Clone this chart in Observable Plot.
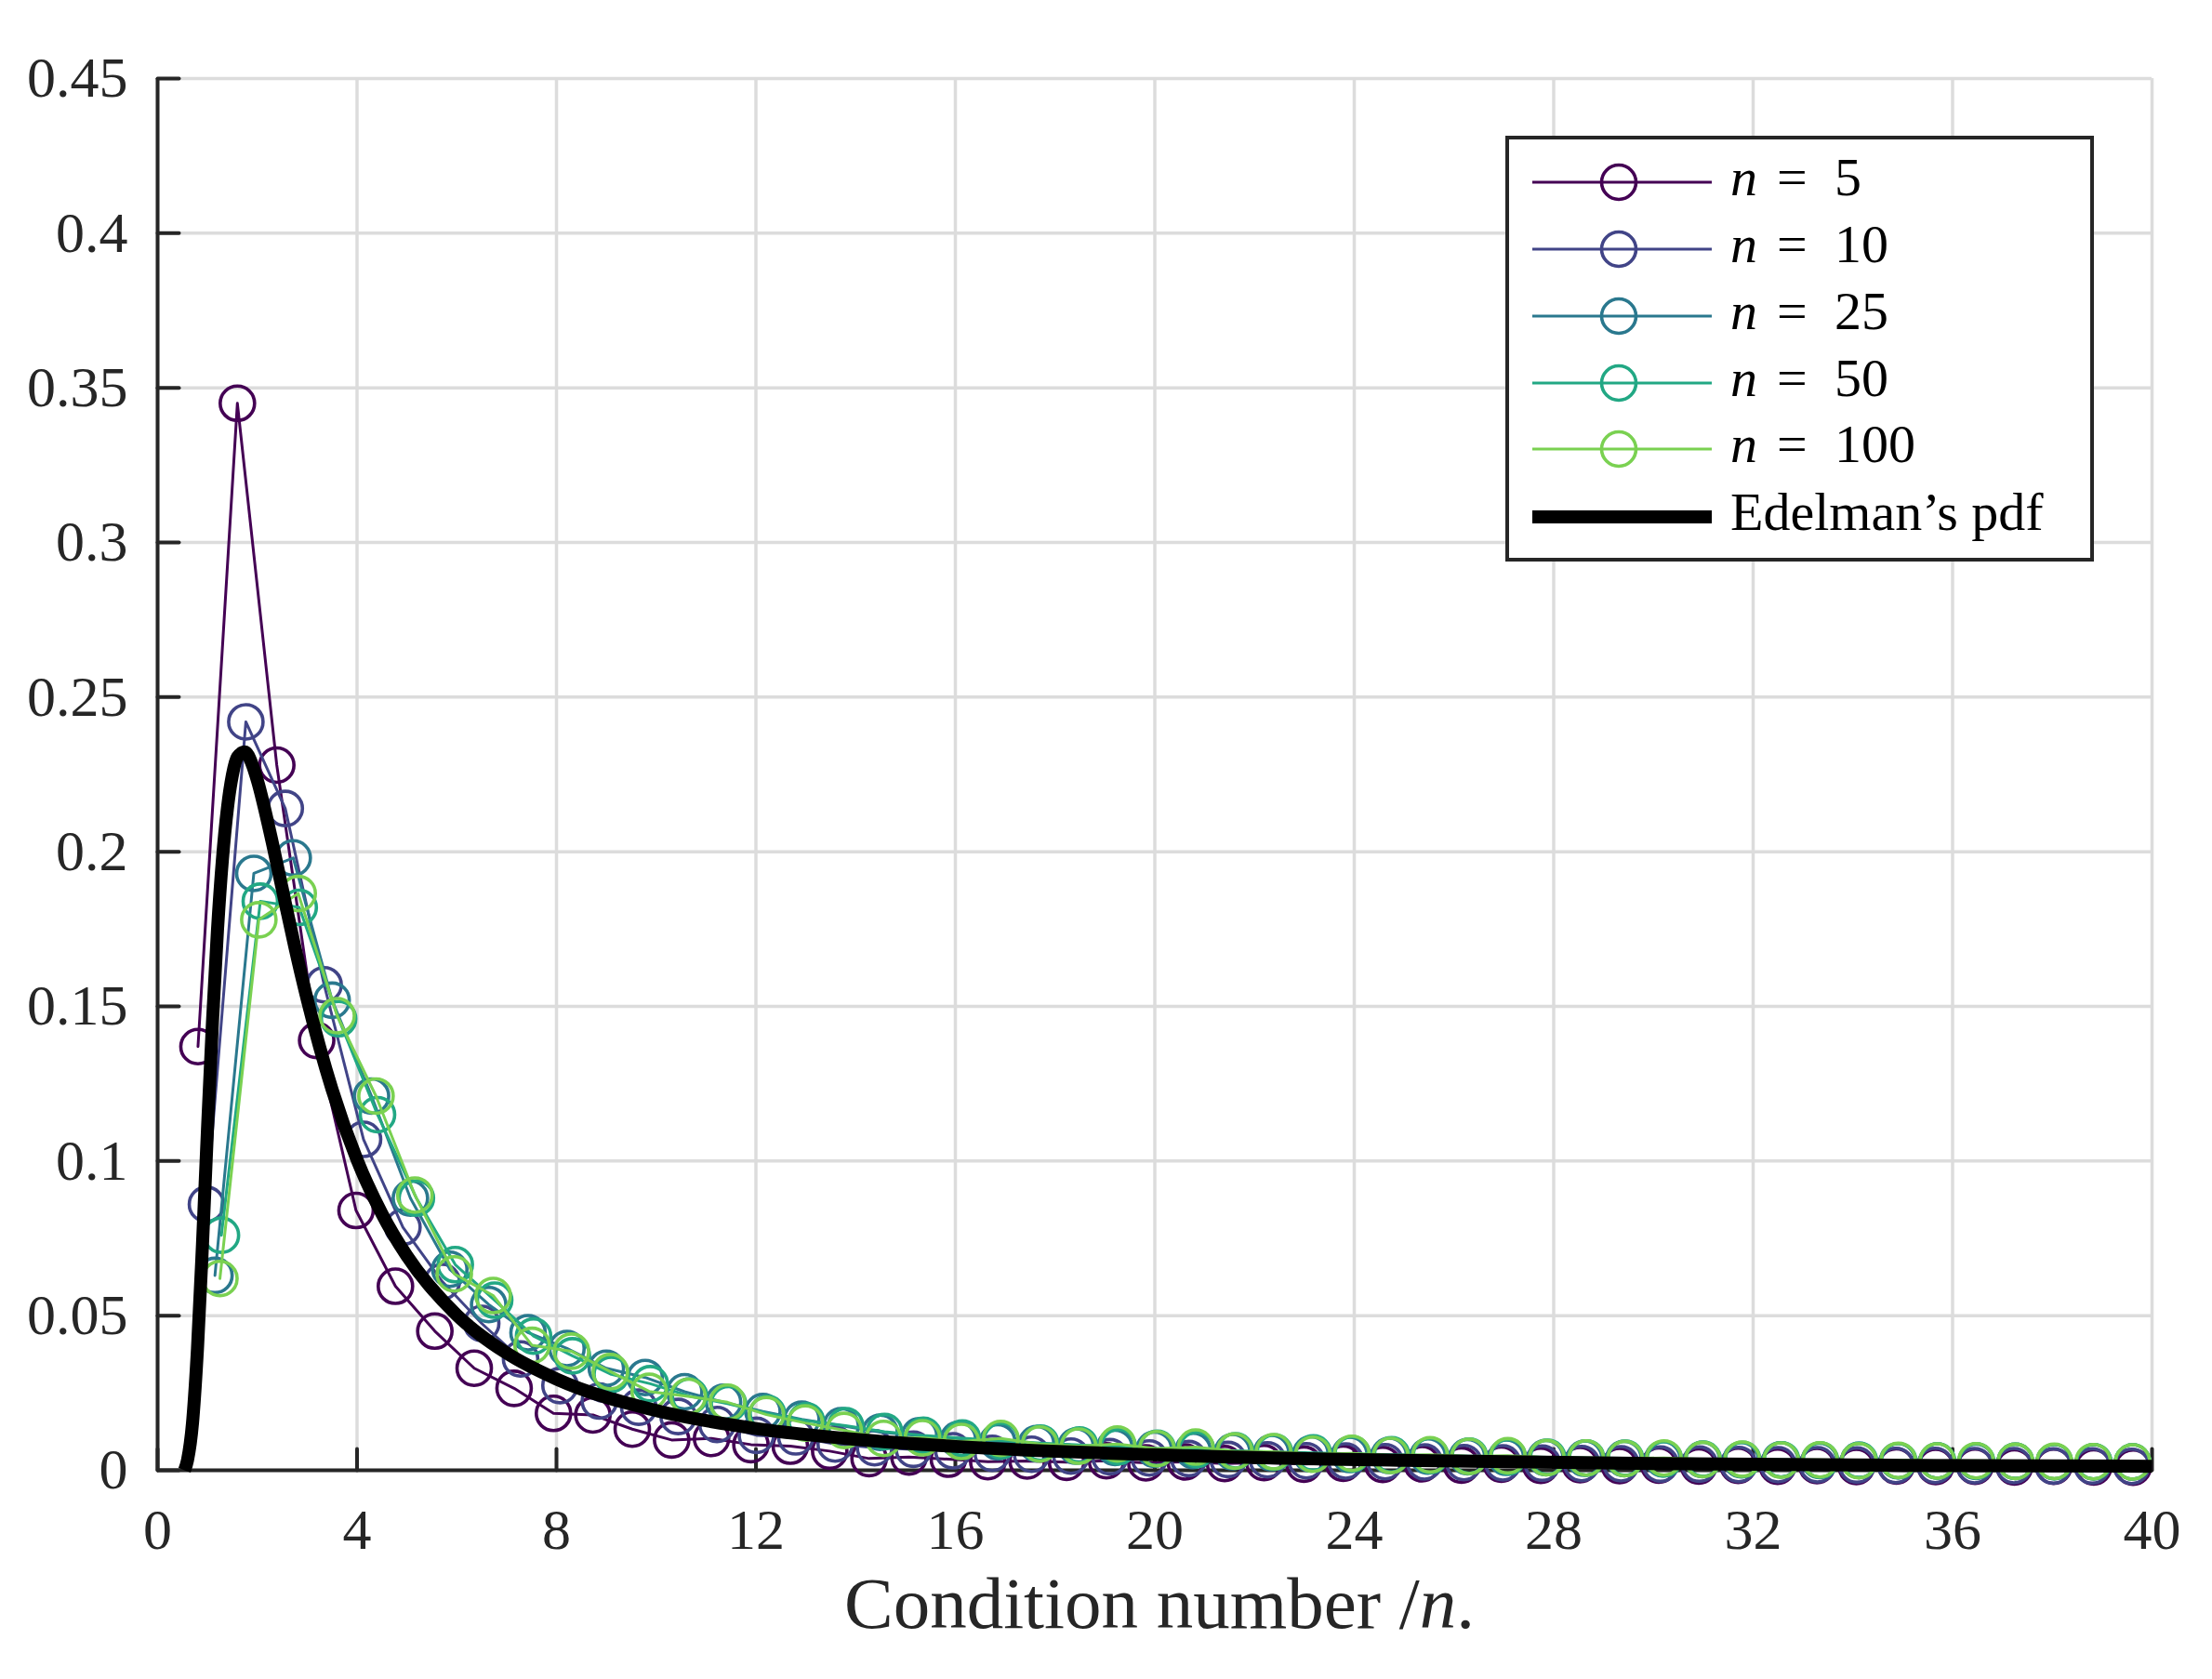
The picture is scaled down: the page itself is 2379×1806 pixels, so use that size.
<!DOCTYPE html>
<html>
<head>
<meta charset="utf-8">
<script src="https://cdn.jsdelivr.net/npm/d3@7"></script>
<script src="https://cdn.jsdelivr.net/npm/@observablehq/plot@0.6"></script>
<style>
  html, body { margin: 0; padding: 0; background: #ffffff; }
  #chart { width: 2379px; height: 1806px; }
</style>
</head>
<body>
<div id="chart"></div>
<script>
// ---------------- data ----------------
const xTicks = [0, 4, 8, 12, 16, 20, 24, 28, 32, 36, 40];
const yTicks = [0, 0.05, 0.1, 0.15, 0.2, 0.25, 0.3, 0.35, 0.4, 0.45];
const seriesNames = ["n = 5", "n = 10", "n = 25", "n = 50", "n = 100"];
const seriesLabels = ["5", "10", "25", "50", "100"];
const seriesColors = ["#440154", "#414487", "#2a788e", "#22a884", "#7ad151"];

const x5 = [0.81,1.60,2.39,3.19,3.98,4.77,5.56,6.35,7.15,7.94,8.73,9.52,10.31,11.11,11.90,12.69,13.48,14.27,15.07,15.86,16.65,17.44,18.23,19.03,19.82,20.61,21.40,22.19,22.99,23.78,24.57,25.36,26.15,26.95,27.74,28.53,29.32,30.11,30.91,31.70,32.49,33.28,34.07,34.87,35.66,36.45,37.24,38.03,38.83,39.62];
const y5 = [0.137,0.345,0.228,0.139,0.084,0.0595,0.045,0.033,0.0265,0.0184,0.0179,0.0133,0.0098,0.0103,0.0083,0.0078,0.0062,0.0038,0.0043,0.0036,0.0028,0.0030,0.0026,0.0031,0.0024,0.0027,0.0022,0.0025,0.0020,0.0023,0.0019,0.0021,0.0017,0.0020,0.0016,0.0018,0.0015,0.0017,0.0014,0.0016,0.0013,0.0015,0.0012,0.0014,0.0012,0.0013,0.0011,0.0013,0.0011,0.0010];

const x10 = [0.98,1.77,2.56,3.34,4.13,4.92,5.71,6.50,7.28,8.07,8.86,9.65,10.44,11.22,12.01,12.80,13.59,14.38,15.16,15.95,16.74,17.53,18.32,19.10,19.89,20.68,21.47,22.26,23.04,23.83,24.62,25.41,26.20,26.98,27.77,28.56,29.35,30.14,30.92,31.71,32.50,33.29,34.08,34.86,35.65,36.44,37.23,38.02,38.80,39.59];
const y10 = [0.086,0.242,0.214,0.157,0.107,0.0786,0.061,0.0475,0.036,0.0274,0.0224,0.0204,0.0174,0.0148,0.0113,0.0108,0.0085,0.0073,0.0068,0.0063,0.0055,0.0052,0.0046,0.0044,0.0040,0.0038,0.0035,0.0034,0.0031,0.0030,0.0028,0.0027,0.0025,0.0024,0.0023,0.0022,0.0021,0.0020,0.0020,0.0019,0.0018,0.0018,0.0017,0.0016,0.0016,0.0015,0.0015,0.0014,0.0014,0.0013];

const x25 = [1.15,1.93,2.72,3.50,4.29,5.07,5.86,6.64,7.43,8.21,9.00,9.78,10.57,11.35,12.14,12.92,13.71,14.49,15.28,16.06,16.85,17.63,18.42,19.20,19.99,20.77,21.56,22.34,23.13,23.91,24.70,25.48,26.27,27.05,27.84,28.62,29.41,30.19,30.98,31.76,32.55,33.33,34.12,34.90,35.69,36.47,37.26,38.04,38.83,39.61];
const y25 = [0.063,0.193,0.198,0.152,0.121,0.088,0.065,0.0536,0.0445,0.0394,0.033,0.030,0.0254,0.022,0.019,0.0165,0.0144,0.0123,0.0112,0.0100,0.0092,0.0086,0.0078,0.0074,0.0068,0.0064,0.0060,0.0057,0.0053,0.0051,0.0048,0.0046,0.0044,0.0042,0.0041,0.0039,0.0038,0.0037,0.0035,0.0034,0.0034,0.0032,0.0032,0.0031,0.0030,0.0029,0.0029,0.0028,0.0027,0.0027];

const x50 = [1.28,2.06,2.84,3.63,4.41,5.19,5.97,6.76,7.54,8.32,9.10,9.88,10.67,11.45,12.23,13.01,13.80,14.58,15.36,16.14,16.92,17.71,18.49,19.27,20.05,20.84,21.62,22.40,23.18,23.96,24.75,25.53,26.31,27.09,27.88,28.66,29.44,30.22,31.00,31.79,32.57,33.35,34.13,34.92,35.70,36.48,37.26,38.04,38.83,39.61];
const y50 = [0.076,0.184,0.182,0.146,0.115,0.088,0.0665,0.055,0.0434,0.037,0.031,0.028,0.024,0.0215,0.0184,0.0160,0.0144,0.0125,0.0113,0.0104,0.0096,0.0088,0.0082,0.0076,0.0071,0.0067,0.0063,0.0059,0.0056,0.0053,0.0050,0.0048,0.0046,0.0044,0.0042,0.0040,0.0039,0.0037,0.0036,0.0035,0.0034,0.0033,0.0032,0.0031,0.0030,0.0030,0.0029,0.0028,0.0028,0.0027];

const x100 = [1.25,2.03,2.82,3.60,4.38,5.16,5.95,6.73,7.51,8.30,9.08,9.86,10.64,11.43,12.21,12.99,13.77,14.56,15.34,16.12,16.91,17.69,18.47,19.25,20.04,20.82,21.60,22.38,23.17,23.95,24.73,25.52,26.30,27.08,27.86,28.65,29.43,30.21,30.99,31.78,32.56,33.34,34.12,34.91,35.69,36.47,37.26,38.04,38.82,39.61];
const y100 = [0.062,0.178,0.1865,0.147,0.121,0.089,0.0635,0.0565,0.0404,0.0385,0.0319,0.0255,0.0239,0.022,0.018,0.0153,0.0129,0.0103,0.0105,0.0093,0.0103,0.0085,0.0078,0.0085,0.0070,0.0075,0.0062,0.0060,0.0052,0.0055,0.0048,0.0050,0.0045,0.0047,0.0041,0.0040,0.0038,0.0040,0.0035,0.0036,0.0033,0.0034,0.0031,0.0032,0.0030,0.0031,0.0029,0.0029,0.0028,0.0027];

// Edelman's pdf curve, sampled by eye from the thick black line
const pdfX = [0.54,0.6,0.7,0.8,0.9,1.0,1.1,1.2,1.3,1.4,1.5,1.6,1.75,1.9,2.0,2.25,2.5,2.75,3.0,3.5,4.0,4.5,5.0,6.0,7.0,8.0,10,12,14,16,20,25,30,35,40];
const pdfY = [0.0,0.0033,0.0153,0.0394,0.073,0.110,0.1448,0.1744,0.1975,0.214,0.2248,0.2306,0.2323,0.2281,0.2231,0.2066,0.188,0.1694,0.1523,0.1231,0.1004,0.0829,0.0693,0.0502,0.0379,0.0295,0.0193,0.0135,0.0100,0.0077,0.0050,0.0032,0.0022,0.0016,0.0013];

// ---------------- build tables ----------------
const seriesX = [x5, x10, x25, x50, x100];
const seriesY = [y5, y10, y25, y50, y100];
const series = seriesNames.map((name, i) =>
  seriesX[i].map((x, j) => ({name, x, y: seriesY[i][j]}))
);
const pdf = pdfX.map((x, i) => ({x, y: pdfY[i]}));

const axisColor = "#262626";
const gridColor = "#dcdcdc";
const font = "'Liberation Serif', 'DejaVu Serif', serif";

const dataMarks = [];
series.forEach((s, i) => {
  dataMarks.push(Plot.line(s, {x: "x", y: "y", stroke: seriesColors[i], strokeWidth: 3}));
  dataMarks.push(Plot.dot(s, {x: "x", y: "y", r: 18.5, stroke: seriesColors[i], strokeWidth: 3.6, fill: "none"}));
});

const tickShape = {draw(context, l) { context.moveTo(0, 0); context.lineTo(0, -l); }};

const chart = Plot.plot({
  width: 2379,
  height: 1806,
  marginLeft: 169,
  marginRight: 65,
  marginTop: 84,
  marginBottom: 225,
  x: {domain: [0, 40]},
  y: {domain: [0, 0.45]},
  style: {fontFamily: font, background: "#ffffff", color: axisColor},
  marks: [
    Plot.gridX(xTicks, {stroke: gridColor, strokeOpacity: 1, strokeWidth: 3.5}),
    Plot.gridY(yTicks, {stroke: gridColor, strokeOpacity: 1, strokeWidth: 3.5}),
    Plot.axisX(xTicks, {tickSize: 0, tickPadding: 40, fontSize: 62, fontFamily: font, fill: axisColor, tickFormat: d => String(d), label: null}),
    Plot.axisY(yTicks, {tickSize: 0, tickPadding: 32, fontSize: 62, fontFamily: font, fill: axisColor, tickFormat: d => String(d), label: null}),
    Plot.ruleY([0], {stroke: axisColor, strokeWidth: 4}),
    Plot.ruleX([0], {stroke: axisColor, strokeWidth: 4}),
    Plot.vector(xTicks, {x: d => d, y: () => 0, length: 23, rotate: 0, anchor: "start", shape: tickShape, stroke: axisColor, strokeWidth: 4}),
    Plot.vector(yTicks, {x: () => 0, y: d => d, length: 23, rotate: 90, anchor: "start", shape: tickShape, stroke: axisColor, strokeWidth: 4}),
    ...dataMarks,
    Plot.line(pdf, {x: "x", y: "y", stroke: "#000000", strokeWidth: 14, curve: "monotone-x", strokeLinecap: "butt", strokeLinejoin: "round"})
  ]
});

document.getElementById("chart").appendChild(chart);

// ---------------- x-axis label and legend ----------------
const svg = d3.select(chart);

const xl = svg.append("text")
  .attr("x", 1247)
  .attr("y", 1751)
  .attr("text-anchor", "middle")
  .attr("font-family", font)
  .attr("font-size", 79)
  .attr("fill", axisColor);
xl.append("tspan").text("Condition number /");
xl.append("tspan").attr("font-style", "italic").text("n");
xl.append("tspan").text(".");

const lg = svg.append("g").attr("class", "legend").attr("text-anchor", "start");
lg.append("rect")
  .attr("x", 1621).attr("y", 148).attr("width", 629).attr("height", 454)
  .attr("fill", "#ffffff").attr("stroke", axisColor).attr("stroke-width", 4);

const rowY = [196, 268, 340, 412, 483, 556];
seriesNames.forEach((name, i) => {
  const y = rowY[i];
  lg.append("line").attr("x1", 1648).attr("x2", 1841).attr("y1", y).attr("y2", y)
    .attr("stroke", seriesColors[i]).attr("stroke-width", 3);
  lg.append("circle").attr("cx", 1741).attr("cy", y).attr("r", 18.5)
    .attr("fill", "none").attr("stroke", seriesColors[i]).attr("stroke-width", 3.6);
  const t = lg.append("text").attr("y", y + 14).attr("text-anchor", "start")
    .attr("font-family", font).attr("font-size", 58).attr("fill", "#000000");
  t.append("tspan").attr("x", 1861).attr("font-style", "italic").text("n");
  t.append("tspan").attr("x", 1911).text("=");
  t.append("tspan").attr("x", 1973).text(seriesLabels[i]);
});
lg.append("line").attr("x1", 1648).attr("x2", 1841).attr("y1", rowY[5]).attr("y2", rowY[5])
  .attr("stroke", "#000000").attr("stroke-width", 14);
lg.append("text").attr("x", 1861).attr("y", rowY[5] + 14).attr("text-anchor", "start")
  .attr("font-family", font).attr("font-size", 58).attr("fill", "#000000")
  .text("Edelman\u2019s pdf");
</script>
</body>
</html>
